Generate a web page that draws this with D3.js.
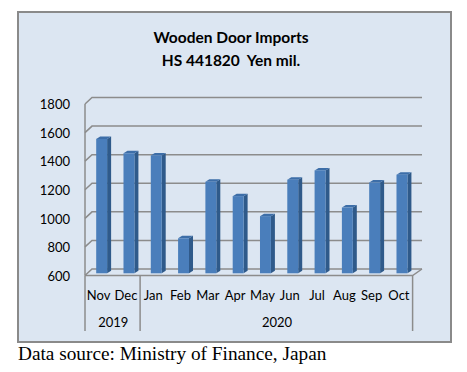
<!DOCTYPE html>
<html>
<head>
<meta charset="utf-8">
<script src="https://cdn.jsdelivr.net/npm/d3@7"></script>
<style>
  body { margin: 0; background: #fff; }
  svg text { font-family: Lato, "Open Sans", sans-serif; white-space: pre; }
</style>
</head>
<body>
<script>
var width = 467, height = 372;

// data
var months = ["Nov", "Dec", "Jan", "Feb", "Mar", "Apr", "May", "Jun", "Jul", "Aug", "Sep", "Oct"];
var years = ["2019", "2019", "2020", "2020", "2020", "2020", "2020", "2020", "2020", "2020", "2020", "2020"];
var imports = [1540, 1440, 1425, 845, 1240, 1140, 1000, 1255, 1320, 1060, 1235, 1290];
var yTicks = [600, 800, 1000, 1200, 1400, 1600, 1800];

var svg = d3.select("body").append("svg")
    .attr("width", width)
    .attr("height", height);

// chart box
svg.append("rect")
    .attr("x", 18).attr("y", 12)
    .attr("width", 433).attr("height", 330)
    .attr("fill", "#dce6f2")
    .attr("stroke", "#8a8a8a")
    .attr("stroke-width", 2);

// titles
svg.append("text")
    .attr("x", 231).attr("y", 43)
    .attr("text-anchor", "middle")
    .attr("font-size", 15.5).attr("font-weight", "bold")
    .text("Wooden Door Imports");
svg.append("text")
    .attr("x", 231).attr("y", 66)
    .attr("text-anchor", "middle")
    .attr("font-size", 15.5).attr("font-weight", "bold")
    .text("HS 441820  Yen mil.");

// scales on the front plane
var x = d3.scaleBand().domain(months.map(function (d, i) { return i; }))
    .range([85, 412.6]).paddingInner(0.6).paddingOuter(0.3);
var y = d3.scaleLinear().domain([600, 1800]).range([275.5, 104]);

var depth = { dx: 7, dy: -6.5 };
var backRight = 422;
var grid = svg.append("g").attr("stroke", "#8c8c8c").attr("stroke-width", 1.5).attr("fill", "none");

// left wall edge
grid.append("line")
    .attr("x1", 85).attr("x2", 85)
    .attr("y1", y(1800)).attr("y2", y(600));

yTicks.forEach(function (t) {
    grid.append("path")
        .attr("d", "M85," + y(t) + "L" + (85 + depth.dx) + "," + (y(t) + depth.dy) +
            "L" + backRight + "," + (y(t) + depth.dy));
});

// floor front edge
grid.append("path")
    .attr("d", "M85," + y(600) + "L412.6," + y(600) + "L" + backRight + "," + (y(600) + depth.dy));

// category axis separators
[85, x(2) - x.step() * x.paddingInner() / 2 + 0.5, 412.6].forEach(function (px) {
    grid.append("line")
        .attr("x1", px).attr("x2", px)
        .attr("y1", y(600)).attr("y2", 331);
});

// y labels
svg.append("g").selectAll("text")
    .data(yTicks).enter().append("text")
    .attr("x", 70).attr("y", function (d) { return y(d) + 2; })
    .attr("text-anchor", "end")
    .attr("dominant-baseline", "middle")
    .attr("font-size", 13)
    .text(function (d) { return d; });

// 3d bars
var shift = { dx: 3, dy: -2.2 };
var top3 = { dx: 4, dy: -2.5 };
var bw = x.bandwidth();
var bars = svg.append("g");
imports.forEach(function (v, i) {
    var x0 = x(i) + shift.dx, x1 = x0 + bw;
    var yt = y(v) + shift.dy, yb = y(600) + shift.dy;
    bars.append("path")
        .attr("d", "M" + x1 + "," + yt + "L" + (x1 + top3.dx) + "," + (yt + top3.dy) +
            "L" + (x1 + top3.dx) + "," + (yb + top3.dy) + "L" + x1 + "," + yb + "Z")
        .attr("fill", "#2f5a8a");
    bars.append("path")
        .attr("d", "M" + x0 + "," + yt + "L" + (x0 + top3.dx) + "," + (yt + top3.dy) +
            "L" + (x1 + top3.dx) + "," + (yt + top3.dy) + "L" + x1 + "," + yt + "Z")
        .attr("fill", "#3d6ea8");
    bars.append("rect")
        .attr("x", x0).attr("y", yt)
        .attr("width", bw).attr("height", yb - yt)
        .attr("fill", "#4a7ebb");
});

// month labels
svg.append("g").selectAll("text")
    .data(months).enter().append("text")
    .attr("x", function (d, i) { return x(i) + bw / 2; })
    .attr("y", 300)
    .attr("text-anchor", "middle")
    .attr("font-size", 13)
    .text(function (d) { return d; });

// year labels
var yearGroups = d3.groups(months.map(function (m, i) { return { i: i, yr: years[i] }; }), function (d) { return d.yr; });
svg.append("g").selectAll("text")
    .data(yearGroups).enter().append("text")
    .attr("x", function (g) {
        var a = g[1][0].i, b = g[1][g[1].length - 1].i;
        return (x(a) + x(b) + bw) / 2 + 1;
    })
    .attr("y", 327)
    .attr("text-anchor", "middle")
    .attr("font-size", 13)
    .text(function (g) { return g[0]; });

// source note
svg.append("text")
    .attr("x", 18).attr("y", 360)
    .attr("font-size", 19.3)
    .style("font-family", "'Liberation Serif', 'Times New Roman', serif")
    .text("Data source: Ministry of Finance, Japan");
</script>
</body>
</html>
